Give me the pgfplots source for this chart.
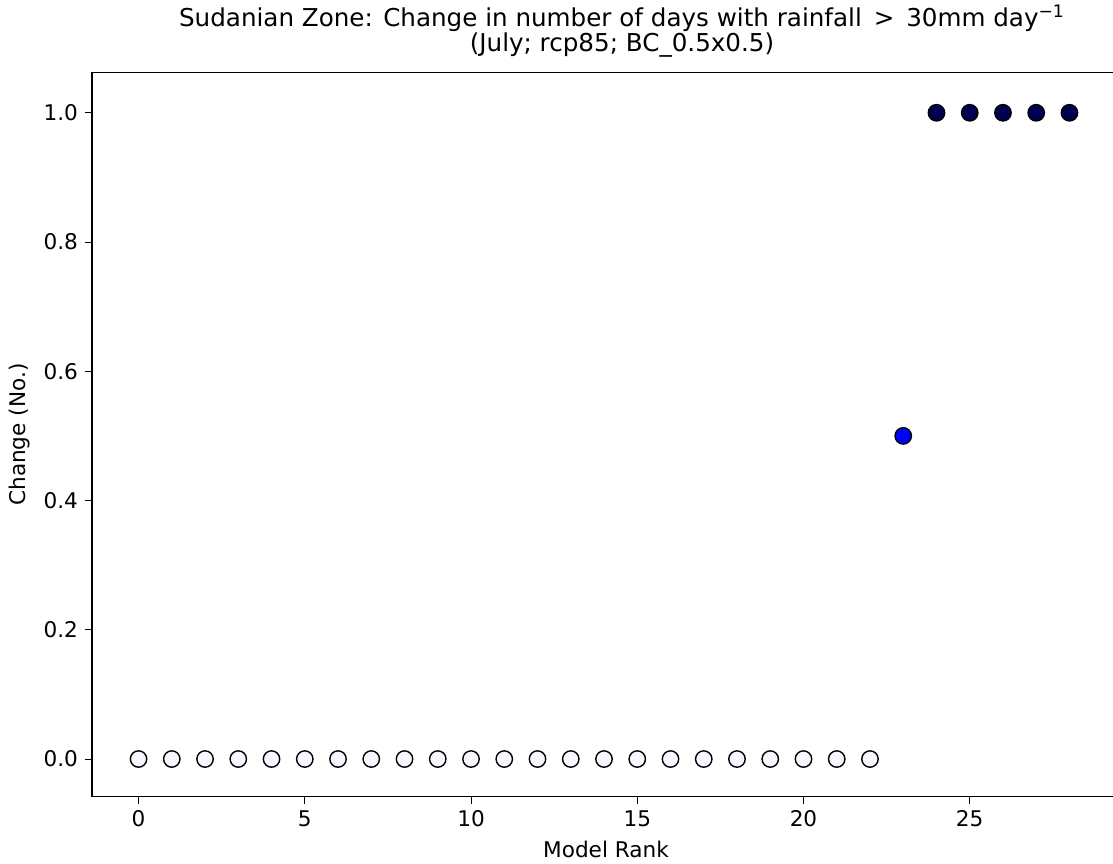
\documentclass[border=0pt]{standalone}
\usepackage{pgfplots}
\pgfplotsset{compat=1.18}
\usepackage{fontspec}
\setmainfont{DejaVu Sans}
\definecolor{c0}{HTML}{F7F7FF}
\definecolor{c1}{HTML}{0000FF}
\definecolor{c2}{HTML}{000050}
\begin{document}
\begin{tikzpicture}
\begin{axis}[
  at={(46pt,33.25pt)}, anchor=south west,
  scale only axis,
  width=514pt, height=361.9pt,
  xmin=-1.4, xmax=29.52,
  ymin=-0.058, ymax=1.062,
  xtick={0,5,10,15,20,25},
  ytick={0,0.2,0.4,0.6,0.8,1.0},
  yticklabel style={/pgf/number format/.cd, fixed, fixed zerofill, precision=1},
  /pgf/number format/assume math mode=true,
  tick align=outside,
  xtick pos=bottom, ytick pos=left,
  major tick length=3.5pt,
  tick style={black, line width=0.5pt},
  axis line style={line width=0.6pt},
  ticklabel style={font=\fontsize{10.8}{13}\selectfont},
  xlabel={Model Rank}, ylabel={Change (No.)},
  label style={font=\fontsize{10.8}{13}\selectfont},
  xlabel style={yshift=0pt},
  title={Sudanian Zone: Change in number of days with rainfall \,>\, 30mm day\textsuperscript{−1}\\(July; rcp85; BC\_0.5x0.5)},
  title style={align=center, font=\fontsize{12.3}{12.6}\selectfont, yshift=-2pt, xshift=8pt},
  clip=false,
]
\addplot[only marks, mark=*, mark size=4.1pt, mark options={fill=c0, draw=black, line width=0.7pt}] coordinates {
(0,0) (1,0) (2,0) (3,0) (4,0) (5,0) (6,0) (7,0) (8,0) (9,0) (10,0) (11,0)
(12,0) (13,0) (14,0) (15,0) (16,0) (17,0) (18,0) (19,0) (20,0) (21,0) (22,0)
};
\addplot[only marks, mark=*, mark size=4.1pt, mark options={fill=c1, draw=black, line width=0.7pt}] coordinates {
(23,0.5)
};
\addplot[only marks, mark=*, mark size=4.1pt, mark options={fill=c2, draw=black, line width=0.7pt}] coordinates {
(24,1) (25,1) (26,1) (27,1) (28,1)
};
\end{axis}
\pgfresetboundingbox
\useasboundingbox (0,0) rectangle (556.5pt,431.5pt);
\end{tikzpicture}
\end{document}
